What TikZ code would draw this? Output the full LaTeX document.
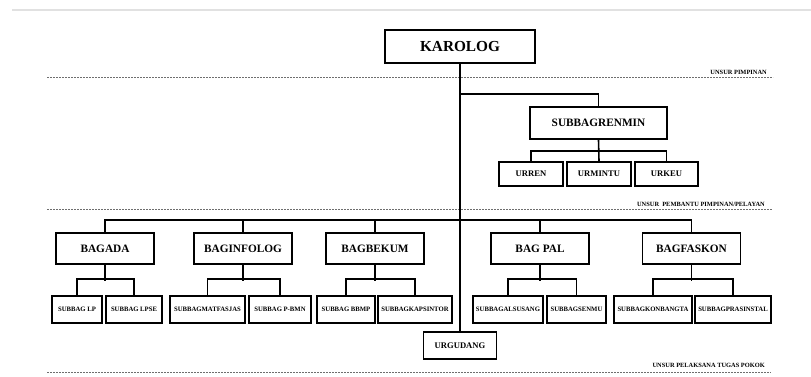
\documentclass[tikz,border=0pt]{standalone}
\usepackage{fontspec}
\setmainfont{Liberation Serif}
\usetikzlibrary{calc}
\definecolor{lolgray}{RGB}{225,225,225}
\definecolor{loldash}{RGB}{110,110,110}

\begin{document}
\begin{tikzpicture}[x=1pt,y=-1pt,
  orgbox/.style={draw,line width=1.6pt,inner sep=0pt,align=center},
  topbox/.style={orgbox,minimum width=150,minimum height=33,font=\fontsize{15.3}{16}\selectfont\bfseries},
  bagbox/.style={orgbox,minimum width=98,minimum height=31,font=\fontsize{11.3}{12}\selectfont\bfseries},
  urbox/.style={orgbox,minimum height=24,font=\fontsize{8.6}{9}\selectfont\bfseries},
  subbox/.style={orgbox,minimum height=27,font=\fontsize{6.7}{7}\selectfont\bfseries},
  unsurline/.style={loldash,line width=1pt,dash pattern=on 2pt off 1pt},
  unsurlabel/.style={inner sep=0pt,font=\fontsize{6.4}{7}\selectfont\bfseries},
  link/.style={line width=1.6pt}]
  \useasboundingbox (0,0) rectangle (811,376);
  \fill[white] (0,0) rectangle (811,376);
  \draw[lolgray,line width=1.2pt] (12,10) -- (811,10);

  \draw[unsurline] (47,77) -- (773,77);
  \draw[unsurline] (47,209.5) -- (772,209.5);
  \draw[unsurline] (47,372) -- (771,372);
  \node[unsurlabel,anchor=base east] (lblpimpinan) at (767,74) {UNSUR PIMPINAN};
  \node[unsurlabel,anchor=base east] (lblpembantu) at (765,206.5) {UNSUR\ \ PEMBANTU PIMPINAN/PELAYAN};
  \node[unsurlabel,anchor=base east] (lblpelaksana) at (765,367.5) {UNSUR PELAKSANA TUGAS POKOK};

  \node[topbox] (karolog) at (460,46.5) {KAROLOG};
  \node[bagbox,minimum width=137,minimum height=32] (renmin) at (598.5,123) {SUBBAGRENMIN};
  \node[urbox,minimum width=64] (urren) at (531,174) {URREN};
  \node[urbox,minimum width=64] (urmintu) at (599,174) {URMINTU};
  \node[urbox,minimum width=63] (urkeu) at (666.5,174) {URKEU};

  \node[bagbox] (bagada) at (105,248.5) {BAGADA};
  \node[bagbox] (baginfolog) at (243,248.5) {BAGINFOLOG};
  \node[bagbox] (bagbekum) at (375,248.5) {BAGBEKUM};
  \node[bagbox] (bagpal) at (540,248.5) {BAG PAL};
  \node[bagbox] (bagfaskon) at (691.5,248.5) {BAGFASKON};

  \node[subbox,minimum width=50] (sublp) at (77,309.5) {SUBBAG LP};
  \node[subbox,minimum width=56] (sublpse) at (134,309.5) {SUBBAG LPSE};
  \node[subbox,minimum width=75] (submatfasjas) at (207.5,309.5) {SUBBAGMATFASJAS};
  \node[subbox,minimum width=62] (subpbmn) at (280,309.5) {SUBBAG P-BMN};
  \node[subbox,minimum width=58] (subbbmp) at (346,309.5) {SUBBAG BBMP};
  \node[subbox,minimum width=74] (subkapsintor) at (415,309.5) {SUBBAGKAPSINTOR};
  \node[subbox,minimum width=70] (subalsusang) at (508,309.5) {SUBBAGALSUSANG};
  \node[subbox,minimum width=59] (subsenmu) at (576.5,309.5) {SUBBAGSENMU};
  \node[subbox,minimum width=78] (subkonbangta) at (653,309.5) {SUBBAGKONBANGTA};
  \node[subbox,minimum width=76] (subprasinstal) at (733,309.5) {SUBBAGPRASINSTAL};

  \node[urbox,minimum width=73,minimum height=27] (urgudang) at (460,345.5) {URGUDANG};

  \draw[link] (karolog.south) -- (urgudang.north);
  \draw[link] (renmin.north) |- ($(karolog.south)+(0,30)$);
  \draw[link] (renmin.south) -- (urmintu.north);
  \draw[link] (urren.north) -- ++(0,-10) -| (urkeu.north);
  \draw[link] (bagada.north) -- ++(0,-12) -| (bagfaskon.north);
  \foreach \b in {baginfolog,bagbekum,bagpal}
    \draw[link] (\b.north) -- ++(0,-12);
  \foreach \p/\l/\r in {bagada/sublp/sublpse,baginfolog/submatfasjas/subpbmn,
                        bagbekum/subbbmp/subkapsintor,bagpal/subalsusang/subsenmu,
                        bagfaskon/subkonbangta/subprasinstal} {
    \draw[link] (\p.south) -- ++(0,16);
    \draw[link] (\l.north) -- ++(0,-16) -| (\r.north);
  }
\end{tikzpicture}
\end{document}
